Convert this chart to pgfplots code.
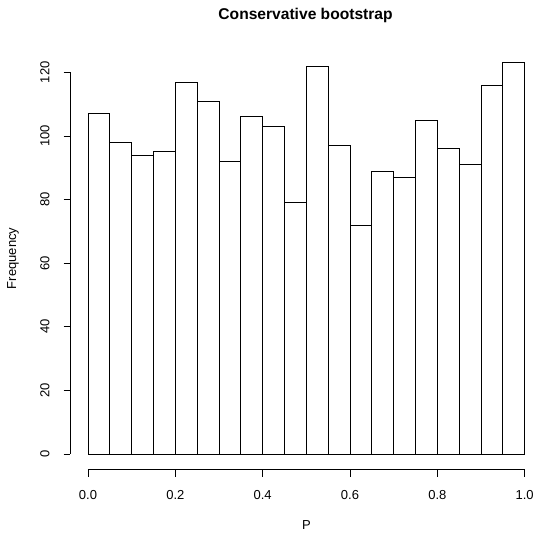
\documentclass[border=0pt]{standalone}
\usepackage{pgfplots}
\pgfplotsset{compat=1.18}
\usepackage{fontspec}
\setmainfont{Liberation Sans}
\begin{document}
\begin{tikzpicture}
\begin{axis}[
  scale only axis, width=465.5pt, height=422.4pt,
  xmin=-0.04, xmax=1.0259, ymin=-4.92, ymax=127.92,
  axis x line*=bottom, axis y line*=left,
  axis line style={draw=none},
  clip=false,
  xtick={0,0.2,0.4,0.6,0.8,1},
  xticklabels={0.0,0.2,0.4,0.6,0.8,1.0},
  ytick={0,20,40,60,80,100,120},
  yticklabels={0,20,40,60,80,100,120},
  tick align=outside, major tick length=7pt,
  tick style={black, line width=0.8pt},
  /pgf/number format/assume math mode=true,
  ticklabel style={font=\fontsize{13}{15}\selectfont},
  xticklabel style={anchor=center, yshift=-18.6pt},
  yticklabel style={xshift=-18.5pt, rotate=90, anchor=center},
  xlabel={P}, ylabel={Frequency},
  label style={font=\fontsize{13}{15}\selectfont},
  xlabel style={at={(axis description cs:0.507,-0.131)}, anchor=center},
  ylabel style={at={(axis description cs:-0.1235,0.5)}, anchor=center, rotate=0},
  title={Conservative bootstrap},
  title style={at={(axis description cs:0.505,1.062)}, anchor=center, font=\fontsize{15.6}{18}\selectfont\bfseries},
]
\addplot[ybar interval, fill=white, draw=black, line width=0.8pt] coordinates {
(0,107) (0.05,98) (0.10,94) (0.15,95) (0.20,117) (0.25,111) (0.30,92) (0.35,106)
(0.40,103) (0.45,79) (0.50,122) (0.55,97) (0.60,72) (0.65,89) (0.70,87) (0.75,105)
(0.80,96) (0.85,91) (0.90,116) (0.95,123) (1.0,123)};
\draw[line width=0.8pt] (axis cs:0,-4.92) -- (axis cs:1,-4.92);
\draw[line width=0.8pt] (axis cs:-0.04,0) -- (axis cs:-0.04,120);
\end{axis}
\pgfresetboundingbox
\path (current axis.south west) ++(-70.5pt,-64.4pt) rectangle ++(536pt,534pt);
\end{tikzpicture}
\end{document}
